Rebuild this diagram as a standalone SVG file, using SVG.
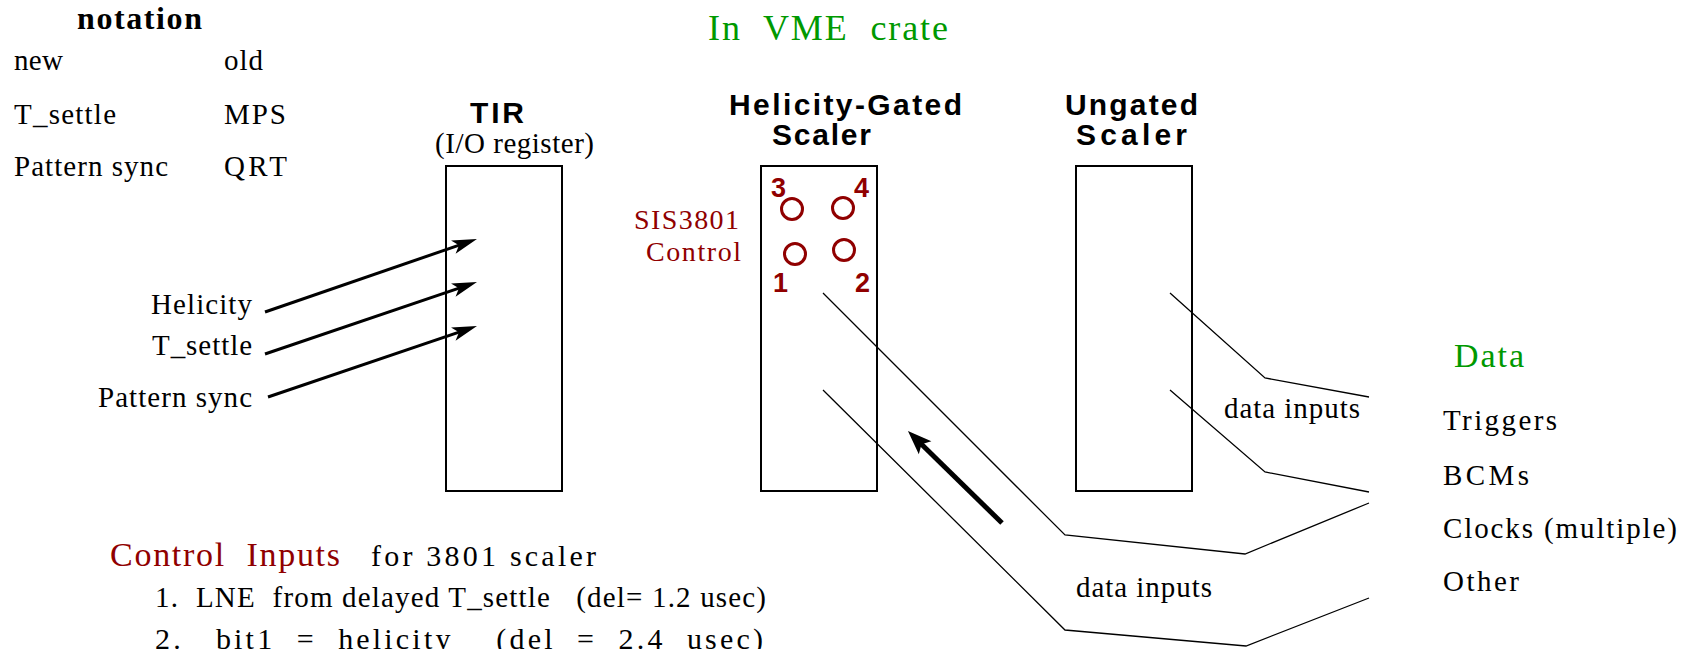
<svg xmlns="http://www.w3.org/2000/svg" width="1686" height="649" viewBox="0 0 1686 649">
<style>
.t{font-family:"Liberation Serif","Times New Roman",serif;font-size:29px;fill:#000}
.tb{font-family:"Liberation Serif","Times New Roman",serif;font-size:32px;font-weight:bold;fill:#000}
.s{font-family:"Liberation Sans",Arial,sans-serif;font-size:30px;font-weight:bold;fill:#000}
.d{font-family:"Liberation Sans",Arial,sans-serif;font-size:27px;font-weight:bold;fill:#900000}
.red{fill:#900000}
.green{fill:#009900}
.box{fill:none;stroke:#000;stroke-width:2}
.wire{fill:none;stroke:#000;stroke-width:1.3}
.in{fill:none;stroke:#000;stroke-width:3;marker-end:url(#ah)}
.thick{fill:none;stroke:#000;stroke-width:5;marker-end:url(#bh)}
.port{fill:none;stroke:#900000;stroke-width:3}
</style>
<defs>
<marker id="ah" viewBox="-26 -8 27 16" refX="-8" refY="0" markerWidth="27" markerHeight="16" markerUnits="userSpaceOnUse" orient="auto">
<path d="M0,0 L-25,-7 L-19,0 L-25,7 Z" fill="#000"/>
</marker>
<marker id="bh" viewBox="-26 -10 27 20" refX="-10" refY="0" markerWidth="27" markerHeight="20" markerUnits="userSpaceOnUse" orient="auto">
<path d="M0,0 L-24,-9 L-19,0 L-24,9 Z" fill="#000"/>
</marker>
</defs>
<rect width="1686" height="649" fill="#fff"/>

<g id="notation">
<text class="tb" x="77" y="29" textLength="125" lengthAdjust="spacing">notation</text>
<text class="t" x="14" y="70" textLength="49" lengthAdjust="spacing">new</text>
<text class="t" x="224" y="70" textLength="39" lengthAdjust="spacing">old</text>
<text class="t" x="14" y="124" textLength="102" lengthAdjust="spacing">T_settle</text>
<text class="t" x="224" y="124" textLength="62" lengthAdjust="spacing">MPS</text>
<text class="t" x="14" y="176" textLength="154" lengthAdjust="spacing">Pattern sync</text>
<text class="t" x="224" y="176" textLength="63" lengthAdjust="spacing">QRT</text>
</g>

<g id="title">
<text class="t green" x="708" y="40" style="font-size:36px" textLength="240" lengthAdjust="spacing" xml:space="preserve">In  VME  crate</text>
</g>

<g id="tir">
<text class="s" x="470" y="123" textLength="54" lengthAdjust="spacing">TIR</text>
<text class="t" x="435" y="153" textLength="159" lengthAdjust="spacing">(I/O register)</text>
<rect class="box" x="446" y="166" width="116" height="325"/>
</g>

<g id="helicity-gated-scaler">
<text class="s" x="729" y="115" textLength="233" lengthAdjust="spacing">Helicity-Gated</text>
<text class="s" x="772" y="145" textLength="99" lengthAdjust="spacing">Scaler</text>
<rect class="box" x="761" y="166" width="116" height="325"/>
<text class="t red" x="634" y="229" style="font-size:28px" textLength="105" lengthAdjust="spacing">SIS3801</text>
<text class="t red" x="646" y="261" style="font-size:28px" textLength="95" lengthAdjust="spacing">Control</text>
<circle class="port" cx="792" cy="209" r="10.5"/>
<circle class="port" cx="843" cy="208" r="10.5"/>
<circle class="port" cx="795" cy="254" r="10.5"/>
<circle class="port" cx="844" cy="250" r="10.5"/>
<text class="d" x="771" y="197">3</text>
<text class="d" x="854" y="197">4</text>
<text class="d" x="773" y="292">1</text>
<text class="d" x="855" y="292">2</text>
</g>

<g id="ungated-scaler">
<text class="s" x="1065" y="115" textLength="133" lengthAdjust="spacing">Ungated</text>
<text class="s" x="1076" y="145" textLength="111" lengthAdjust="spacing">Scaler</text>
<rect class="box" x="1076" y="166" width="116" height="325"/>
</g>

<g id="tir-inputs">
<text class="t" x="151" y="314" textLength="101" lengthAdjust="spacing">Helicity</text>
<text class="t" x="152" y="355" textLength="100" lengthAdjust="spacing">T_settle</text>
<text class="t" x="98" y="407" textLength="154" lengthAdjust="spacing">Pattern sync</text>
</g>

<g id="data-sources">
<text class="t green" x="1454" y="367" style="font-size:34px" textLength="70" lengthAdjust="spacing">Data</text>
<text class="t" x="1443" y="430" textLength="114" lengthAdjust="spacing">Triggers</text>
<text class="t" x="1443" y="485" textLength="86" lengthAdjust="spacing">BCMs</text>
<text class="t" x="1443" y="538" textLength="234" lengthAdjust="spacing">Clocks (multiple)</text>
<text class="t" x="1443" y="591" textLength="76" lengthAdjust="spacing">Other</text>
</g>

<g id="control-inputs">
<text class="t red" x="110" y="566" style="font-size:34px" textLength="230" lengthAdjust="spacing" xml:space="preserve">Control  Inputs</text>
<text class="t" x="371" y="566" style="font-size:30px" textLength="225" lengthAdjust="spacing">for 3801 scaler</text>
<text class="t" x="155" y="607" style="font-size:29px" textLength="611" lengthAdjust="spacing" xml:space="preserve">1.  LNE  from delayed T_settle   (del= 1.2 usec)</text>
<text class="t" x="155" y="649" style="font-size:30px" textLength="608" lengthAdjust="spacing" xml:space="preserve">2.   bit1  =  helicity    (del  =  2.4  usec)</text>
</g>

<g id="connectors">
<line class="in" x1="265" y1="312" x2="469.4" y2="241.6"/>
<line class="in" x1="265" y1="354" x2="469.4" y2="284.6"/>
<line class="in" x1="268" y1="397" x2="469.4" y2="328.6"/>
<line class="thick" x1="1002" y1="523" x2="915.1" y2="438"/>
<polyline class="wire" points="823,293 1065,535 1245,554 1369,503"/>
<polyline class="wire" points="823,390 1065,630 1246,646 1369,598"/>
<polyline class="wire" points="1170,293 1265,378 1369,397"/>
<polyline class="wire" points="1170,390 1265,472 1369,492"/>
<text class="t" x="1224" y="418" textLength="136" lengthAdjust="spacing">data inputs</text>
<text class="t" x="1076" y="597" textLength="136" lengthAdjust="spacing">data inputs</text>
</g>
</svg>
